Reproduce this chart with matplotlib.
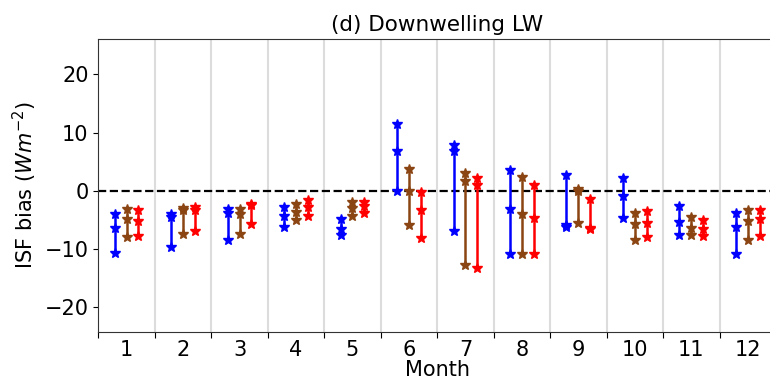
import matplotlib
matplotlib.use("Agg")
import matplotlib.pyplot as plt
import numpy as np

months = list(range(1, 13))

# (max, middle, min) of ISF bias per month for each of the three series
blue_hi = [-4.1, -4.0, -3.1, -2.9, -4.9, 11.5, 7.9, 3.5, 2.6, 2.2, -2.7, -3.9]
blue_mid = [-6.4, -4.6, -3.9, -4.3, -6.6, 6.9, 6.9, -3.1, -6.0, -0.9, -5.4, -6.3]
blue_lo = [-10.7, -9.7, -8.5, -6.2, -7.7, -0.1, -7.0, -11.0, -6.3, -4.7, -7.7, -10.9]

brown_hi = [-3.1, -3.0, -3.1, -2.3, -1.9, 3.7, 3.0, 2.3, 0.3, -3.8, -4.6, -3.4]
brown_mid = [-4.9, -3.3, -4.0, -3.7, -3.0, 0.0, 1.7, -4.0, 0.0, -5.8, -6.4, -5.3]
brown_lo = [-8.0, -7.5, -7.4, -5.1, -4.3, -6.0, -12.9, -11.0, -5.6, -8.5, -7.7, -8.5]

red_hi = [-3.4, -2.9, -2.3, -1.7, -1.9, -0.3, 2.2, 0.9, -1.4, -3.5, -5.0, -3.4]
red_mid = [-5.3, -3.4, -2.5, -2.9, -2.7, -3.4, 0.9, -4.7, -6.4, -5.6, -6.6, -4.9]
red_lo = [-7.8, -6.9, -5.8, -4.4, -3.9, -8.1, -13.3, -10.9, -6.7, -8.0, -7.9, -7.8]

series = [
    (blue_hi, blue_mid, blue_lo, "blue", -0.21),
    (brown_hi, brown_mid, brown_lo, "#8B4513", 0.0),
    (red_hi, red_mid, red_lo, "red", 0.21),
]

plt.rcParams["font.size"] = 15

fig = plt.figure(figsize=(7.7, 3.81), dpi=100)
ax = fig.add_axes([0.1277, 0.1294, 0.8801, 0.7682])

for b in np.arange(1.5, 12.5, 1.0):
    ax.axvline(b, color="#dcdcdc", lw=1.5, zorder=0)

ax.axhline(0, color="black", ls="--", lw=1.6, zorder=1)

for hi, mid, lo, col, off in series:
    x = np.array(months) + off
    ax.vlines(x, lo, hi, color=col, lw=1.8, zorder=2)
    for vals in (hi, mid, lo):
        ax.plot(x, vals, ls="none", marker="*", ms=7.5, color=col, zorder=3)

ax.set_xlim(0.5, 12.5)
ax.set_ylim(-24.3, 26.1)
ax.set_xticks(np.arange(0.5, 12.5, 1.0))
ax.set_xticklabels([])
ax.set_xticks(months, minor=True)
ax.set_xticklabels([str(m) for m in months], minor=True)
ax.tick_params(axis="x", which="minor", length=0, pad=6)
ax.tick_params(axis="x", which="major", length=4)
ax.set_yticks([-20, -10, 0, 10, 20])

ax.set_xlabel("Month", labelpad=0)
ax.set_ylabel("ISF bias ($Wm^{-2}$)")
ax.set_title("(d) Downwelling LW", fontsize=15.5, pad=6)

for s in ax.spines.values():
    s.set_color("#333333")

fig.savefig("out.png", dpi=100)
